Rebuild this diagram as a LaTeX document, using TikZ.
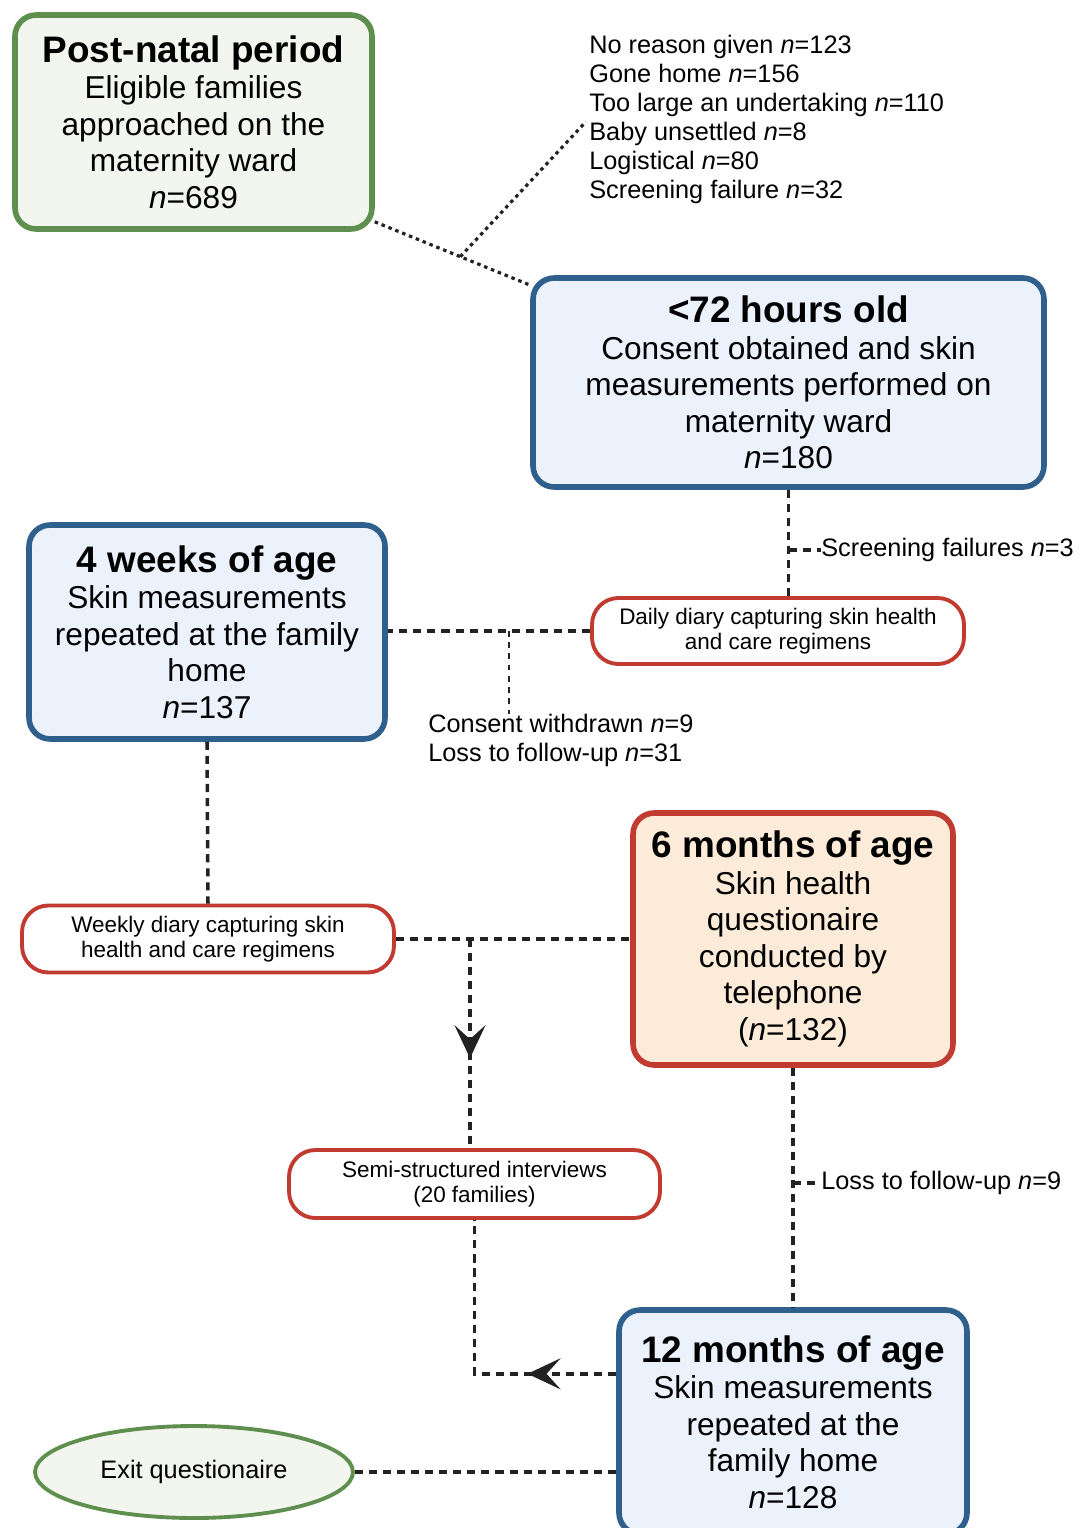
\documentclass[tikz,border=0pt]{standalone}
\usepackage{fontspec}
\setmainfont{Liberation Sans}
\usetikzlibrary{calc,arrows.meta,decorations.markings,shapes.geometric}

\definecolor{postgreen}{HTML}{5E8F4F}
\definecolor{postfill}{HTML}{F3F6EF}
\definecolor{stageblue}{HTML}{2F5F8C}
\definecolor{bluefill}{HTML}{EBF2FB}
\definecolor{diaryred}{HTML}{C23B31}
\definecolor{peachfill}{HTML}{FCEBD8}
\definecolor{linkgray}{HTML}{222222}

\newcommand{\nn}{\textit{n}}
\newcommand{\stagetitle}[1]{{\fontsize{21}{24}\selectfont\bfseries #1}}

\tikzset{
  stage/.style={draw, rounded corners=12pt, line width=3.2pt, align=center,
    inner sep=0pt, font=\fontsize{18}{20.8}\selectfont},
  diary/.style={draw=diaryred, fill=white, rounded corners=15pt, line width=2.2pt,
    align=center, inner sep=0pt, font=\fontsize{12.8}{14.3}\selectfont},
  note/.style={align=left, inner sep=0pt, font=\fontsize{14.4}{16.5}\selectfont},
  link/.style={draw=linkgray, line width=2pt, dash pattern=on 4.6pt off 3.4pt},
  thinlink/.style={draw=linkgray, line width=1.1pt, dash pattern=on 3.2pt off 3.2pt},
  dotlink/.style={draw=linkgray, line width=1.8pt, dash pattern=on 2pt off 2.2pt},
  midarrow/.style={postaction={decorate}, decoration={markings,
    mark=at position #1 with {\pgfsetdash{}{0pt}\arrow{Stealth[length=0.66cm,width=0.62cm,inset=0.28cm]}}}}
}

\begin{document}
\begin{tikzpicture}[x=0.02cm, y=-0.02cm]
\useasboundingbox (0,0) rectangle (1080,1528);

% stages
\node[stage, draw=postgreen, fill=postfill, minimum width=7.14cm, minimum height=4.28cm]
  (post) at (193.5,122) {\stagetitle{Post-natal period}\\Eligible families\\approached on the\\maternity ward\\\nn=689};
\node[stage, draw=stageblue, fill=bluefill, minimum width=10.22cm, minimum height=4.18cm]
  (h72) at (788.5,382.5) {\stagetitle{<72 hours old}\\Consent obtained and skin\\measurements performed on\\maternity ward\\\nn=180};
\node[stage, draw=stageblue, fill=bluefill, minimum width=7.12cm, minimum height=4.28cm]
  (w4) at (207,632) {\stagetitle{4 weeks of age}\\Skin measurements\\repeated at the family\\home\\\nn=137};
\node[stage, draw=diaryred, fill=peachfill, minimum width=6.4cm, minimum height=5.04cm]
  (m6) at (793,939) {\stagetitle{6 months of age}\\Skin health\\questionaire\\conducted by\\telephone\\(\nn=132)};
\node[stage, draw=stageblue, fill=bluefill, minimum width=6.96cm, minimum height=4.48cm]
  (m12) at (793,1422) {\stagetitle{12 months of age}\\Skin measurements\\repeated at the\\family home\\\nn=128};

% diaries and interviews
\node[diary, minimum width=7.44cm, minimum height=1.32cm] (daily) at (778,631)
  {Daily diary capturing skin health\\and care regimens};
\node[diary, minimum width=7.44cm, minimum height=1.34cm] (weekly) at (208,939)
  {Weekly diary capturing skin\\health and care regimens};
\node[diary, minimum width=7.42cm, minimum height=1.36cm] (semi) at (474.5,1184)
  {Semi-structured interviews\\(20 families)};
\node[ellipse, draw=postgreen, fill=postfill, line width=2.2pt, inner sep=0pt,
  minimum width=6.36cm, minimum height=1.84cm, font=\fontsize{14.4}{16.5}\selectfont]
  (exit) at (194,1472) {Exit questionaire};

% drop-outs
\node[note, anchor=north west] (reasons) at (589,35)
  {No reason given \nn=123\\Gone home \nn=156\\Too large an undertaking \nn=110\\Baby unsettled \nn=8\\Logistical \nn=80\\Screening failure \nn=32};
\node[note, anchor=west] (scr) at (821,550) {Screening failures \nn=3};
\node[note, anchor=north west] (lost) at (428,714) {Consent withdrawn \nn=9\\Loss to follow-up \nn=31};
\node[note, anchor=west] (lfu) at (821,1183) {Loss to follow-up \nn=9};

% connectors
\coordinate (p1) at ($(post.south east)+(0,-10)$);
\coordinate (p2) at ($(h72.north west)+(0,10)$);
\draw[dotlink] (p1) -- (p2);
\coordinate (drop) at ($(p1)!0.55!(p2)$);
\draw[dotlink] (drop) -- ($(reasons.west)+(-3,2)$);

\draw[link] (h72.south) -- (h72.south |- daily.north);
\coordinate (sf) at (h72.south |- scr.west);
\draw[link] (sf) -- (scr.west);

\draw[link] (daily.west) -- (daily.west -| w4.east);
\coordinate (cw) at ($(w4.east)!0.6!(daily.west)$);
\draw[thinlink] (cw |- daily.west) -- (cw |- lost.north);

\draw[link] (w4.south) -- (weekly.north);
\draw[link] (weekly.east) -- (weekly.east -| m6.west);
\coordinate (iv) at (470,939);
\draw[link, midarrow=0.57] (iv) -- (iv |- semi.north);

\draw[link] (m6.south) -- (m12.north);
\coordinate (lf) at (m6.south |- lfu.west);
\draw[link] (lf) -- (lfu.west);

\coordinate (back) at ($(m12.north west)!0.29!(m12.south west)$);
\draw[link, midarrow=0.3] (back) -| (semi.south);
\draw[link] (exit.east) -- (exit.east -| m12.west);

\end{tikzpicture}
\end{document}
